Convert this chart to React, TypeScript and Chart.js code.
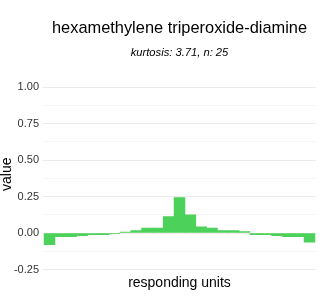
import React, { useEffect, useRef } from "react";
import { Chart, registerables } from "chart.js";

Chart.register(...registerables);

const TITLE = "hexamethylene triperoxide-diamine";
const SUBTITLE = "kurtosis: 3.71, n: 25";
const X_TITLE = "responding units";
const Y_TITLE = "value";

const units: number[] = [1, 2, 3, 4, 5, 6, 7, 8, 9, 10, 11, 12, 13, 14, 15, 16, 17, 18, 19, 20, 21, 22, 23, 24, 25];
const values: number[] = [
  -0.08, -0.025, -0.025, -0.018, -0.011, -0.011, -0.005, 0.007, 0.016, 0.034, 0.034, 0.112, 0.242,
  0.125, 0.043, 0.034, 0.016, 0.016, 0.009, -0.011, -0.011, -0.018, -0.025, -0.025, -0.062,
];
const yMin = -0.25;
const yMax = 1.0;
const yStep = 0.125;

const FONT = '"Liberation Sans", Arial, Helvetica, sans-serif';
const BAR_COLOR = "#4cd15a";

const textPlugin = {
  id: "textPlugin",
  afterDraw(chart: any) {
    const ctx = chart.ctx;
    const area = chart.chartArea;
    const cx = (area.left + area.right) / 2;
    ctx.save();
    ctx.fillStyle = "#000000";
    ctx.textAlign = "center";
    ctx.textBaseline = "alphabetic";
    ctx.font = `16.4px ${FONT}`;
    ctx.fillText(TITLE, cx, 33);
    ctx.font = `italic 11.2px ${FONT}`;
    ctx.fillText(SUBTITLE, cx, 56);
    ctx.font = `14px ${FONT}`;
    ctx.fillText(X_TITLE, cx, 287);
    ctx.translate(10.5, (area.top + area.bottom) / 2 - 4);
    ctx.rotate(-Math.PI / 2);
    ctx.fillText(Y_TITLE, 0, 0);
    ctx.restore();
  },
};

export default function App() {
  const ref = useRef<HTMLCanvasElement | null>(null);
  useEffect(() => {
    if (!ref.current) return;
    Chart.defaults.font.family = FONT;
    const chart = new Chart(ref.current, {
      type: "bar",
      data: {
        datasets: [
          {
            data: units.map((u, i) => ({ x: u, y: values[i] })),
            backgroundColor: BAR_COLOR,
            borderWidth: 0,
            categoryPercentage: 1,
            barPercentage: 1,
          },
        ],
      },
      options: {
        responsive: false,
        animation: false,
        devicePixelRatio: 1,
        layout: { padding: { left: 0, top: 87, right: 4, bottom: 30.5 } },
        plugins: { legend: { display: false }, tooltip: { enabled: false }, title: { display: false } },
        scales: {
          x: {
            type: "linear",
            min: 0.4,
            max: 25.6,
            offset: false,
            grid: { offset: false, display: false },
            display: false,
          },
          y: {
            min: yMin,
            max: yMax,
            border: { display: false },
            grid: {
              drawTicks: false,
              color: (c: any) => {
                const v = c.tick ? c.tick.value : 0;
                return Math.abs(v * 4 - Math.round(v * 4)) < 1e-6 ? "#ebebeb" : "#f6f6f6";
              },
              lineWidth: 1,
            },
            ticks: {
              stepSize: yStep,
              autoSkip: false,
              padding: 4,
              color: "#333333",
              font: { size: 11, family: FONT },
              callback: (v: any) => {
                const n = Number(v);
                return Math.abs(n * 4 - Math.round(n * 4)) < 1e-6 ? n.toFixed(2) : "";
              },
            },
            afterFit: (s: any) => {
              s.width = 43;
            },
          },
        },
      },
      plugins: [textPlugin],
    });
    return () => chart.destroy();
  }, []);
  return (
    <div style={{ position: "fixed", left: 0, top: 0, width: 320, height: 300, background: "#fff" }}>
      <canvas ref={ref} width={320} height={300} style={{ width: 320, height: 300 }} />
    </div>
  );
}
